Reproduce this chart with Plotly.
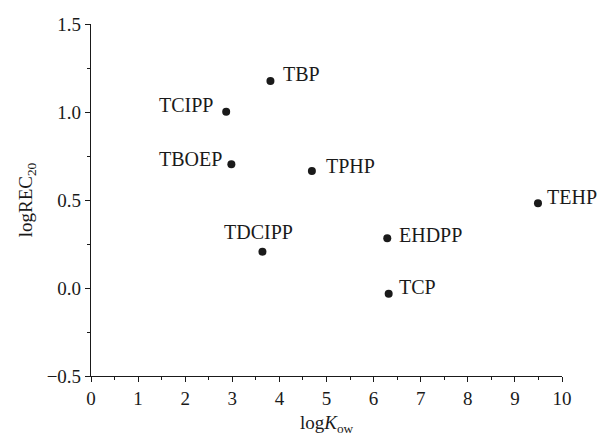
import plotly.graph_objects as go

names = ["TBP", "TCIPP", "TBOEP", "TPHP", "TDCIPP", "EHDPP", "TCP", "TEHP"]
log_kow = [3.81, 2.87, 2.98, 4.69, 3.64, 6.29, 6.32, 9.49]
log_rec20 = [1.176, 1.002, 0.703, 0.665, 0.206, 0.282, -0.032, 0.481]

# label placement (anchor, x shift px, y shift px)
label_style = {
    "TBP": ("left", 11, 7),
    "TCIPP": ("right", -11, 7),
    "TBOEP": ("right", -7, 5),
    "TPHP": ("left", 12, 5),
    "TDCIPP": ("center", -4, 20),
    "EHDPP": ("left", 10, 3),
    "TCP": ("left", 8, 7),
    "TEHP": ("left", 7, 6),
}

FONT = "Liberation Serif"
FS = 19
LFS = 20

fig = go.Figure()
fig.add_trace(go.Scatter(
    x=log_kow, y=log_rec20, mode="markers",
    marker=dict(size=8, color="#1a1a1a"),
    showlegend=False, hoverinfo="skip",
))

for n, xv, yv in zip(names, log_kow, log_rec20):
    anchor, dx, dy = label_style[n]
    fig.add_annotation(x=xv, y=yv, text=n, showarrow=False,
                       xanchor=anchor, yanchor="middle",
                       xshift=dx, yshift=dy,
                       font=dict(family=FONT, size=LFS, color="#1a1a1a"))

# x-axis title as paper annotation (placed just below tick labels)
fig.add_annotation(x=0.5, y=-0.135, xref="paper", yref="paper",
                   text="log<i>K</i><sub>ow</sub>", showarrow=False,
                   xanchor="center", yanchor="middle",
                   font=dict(family=FONT, size=FS, color="#1a1a1a"))

axis_common = dict(
    showgrid=False, zeroline=False, showline=True, linecolor="#1a1a1a",
    linewidth=1.2, ticks="outside", ticklen=5, tickwidth=1.2,
    tickcolor="#1a1a1a", automargin=False,
    tickfont=dict(family=FONT, size=FS, color="#1a1a1a"),
)

fig.update_layout(
    width=599, height=437,
    margin=dict(l=91, r=37, t=24, b=61),
    paper_bgcolor="white", plot_bgcolor="white",
    font=dict(family=FONT, size=FS, color="#1a1a1a"),
    xaxis=dict(range=[0, 10], dtick=1, tick0=0,
               minor=dict(dtick=0.5, ticks="outside", ticklen=3,
                          tickcolor="#1a1a1a", tickwidth=1.2),
               **axis_common),
    yaxis=dict(range=[-0.5, 1.5], dtick=0.5, tick0=0, tickformat=".1f",
               minor=dict(dtick=0.25, ticks="outside", ticklen=3,
                          tickcolor="#1a1a1a", tickwidth=1.2),
               title=dict(text="logREC<sub>20</sub>", standoff=8,
                          font=dict(family=FONT, size=FS, color="#1a1a1a")),
               **axis_common),
)

fig.write_html("out.html")
